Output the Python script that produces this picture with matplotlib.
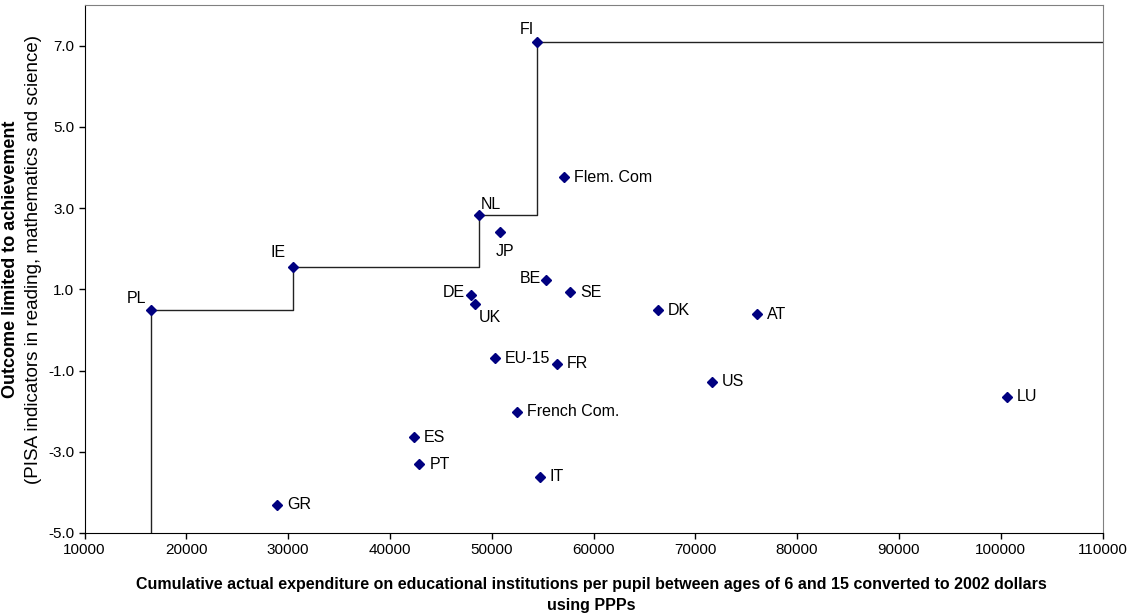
import matplotlib
matplotlib.use("Agg")
import matplotlib.pyplot as plt
import numpy as np

plt.rcParams['font.family'] = ['Liberation Sans', 'DejaVu Sans']

countries = ["PL", "GR", "IE", "ES", "PT", "DE", "UK", "NL", "EU-15", "JP",
             "French Com.", "FI", "IT", "BE", "FR", "Flem. Com", "SE", "DK",
             "US", "AT", "LU"]
expenditure = [16500, 28950, 30480, 42350, 42900, 48000, 48400, 48720, 50320, 50780,
               52500, 54480, 54700, 55300, 56380, 57150, 57680, 66330,
               71630, 76050, 100600]
outcome = [0.48, -4.30, 1.55, -2.64, -3.31, 0.85, 0.65, 2.83, -0.70, 2.41,
           -2.02, 7.10, -3.61, 1.24, -0.83, 3.76, 0.93, 0.49,
           -1.27, 0.38, -1.64]

x_ticks = [10000, 20000, 30000, 40000, 50000, 60000, 70000, 80000, 90000, 100000, 110000]
y_ticks = [-5.0, -3.0, -1.0, 1.0, 3.0, 5.0, 7.0]

x_label_1 = "Cumulative actual expenditure on educational institutions per pupil between ages of 6 and 15 converted to 2002 dollars"
x_label_2 = "using PPPs"
y_label_1 = "Outcome limited to achievement"
y_label_2 = "(PISA indicators in reading, mathematics and science)"

# label placement (offset in pixels, ha)
label_pos = {
    "PL": ((-14, 12), "center"), "IE": ((-15, 14), "center"), "FI": ((-10, 12), "center"),
    "NL": ((12, 10), "center"), "JP": ((5, -19), "center"), "DE": ((-6, 3), "right"),
    "UK": ((14, -14), "center"), "BE": ((-5, 1), "right"),
}

W, H = 1132, 614
fig = plt.figure(figsize=(W / 100, H / 100), dpi=100)
ax = fig.add_axes([84.5 / W, 1 - 533 / H, (1102.5 - 84.5) / W, (533 - 5) / H])

xmin, xmax, ymin, ymax = 10000, 110000, -5.0, 8.0

# FDH frontier computed from the data
order = np.argsort(expenditure)
fx, fy = [], []
best = -np.inf
for i in order:
    if outcome[i] > best:
        best = outcome[i]
        fx.append(expenditure[i]); fy.append(outcome[i])
sx = [fx[0]] + fx + [xmax]
sy = [ymin] + fy + [fy[-1]]
ax.plot(sx, sy, drawstyle='steps-post', color='#222222', lw=1.0, zorder=2)

ax.plot(expenditure, outcome, linestyle='none', marker='D', ms=5.5,
        color='#000080', zorder=3)

for c, xv, yv in zip(countries, expenditure, outcome):
    off, ha = label_pos.get(c, ((10, 0), "left"))
    ax.annotate(c, (xv, yv), xytext=off, textcoords='offset pixels',
                ha=ha, va='center', fontsize=11.5, color='black')

ax.set_xlim(xmin, xmax)
ax.set_ylim(ymin, ymax)
ax.set_xticks(x_ticks)
ax.set_xticklabels([str(t) for t in x_ticks])
ax.set_yticks(y_ticks)
ax.set_yticklabels([f"{t:.1f}" for t in y_ticks])
ax.tick_params(direction='out', length=4, width=1, labelsize=11, colors='black')

for s in ['top', 'right']:
    ax.spines[s].set_color('#808080')
for s in ['left', 'bottom']:
    ax.spines[s].set_color('black')

fig.text(591.5 / W, 1 - 585 / H, x_label_1, fontsize=11.5, fontweight='bold',
         ha='center', va='center')
fig.text(591.5 / W, 1 - 605.5 / H, x_label_2, fontsize=11.5, fontweight='bold',
         ha='center', va='center')

fig.text(10.8 / W, 1 - 259 / H, y_label_1, rotation=90, fontsize=13,
         fontweight='bold', ha='center', va='center')
fig.text(34 / W, 1 - 259 / H, y_label_2, rotation=90,
         fontsize=13.5, ha='center', va='center')

fig.savefig("out.png", dpi=100)
